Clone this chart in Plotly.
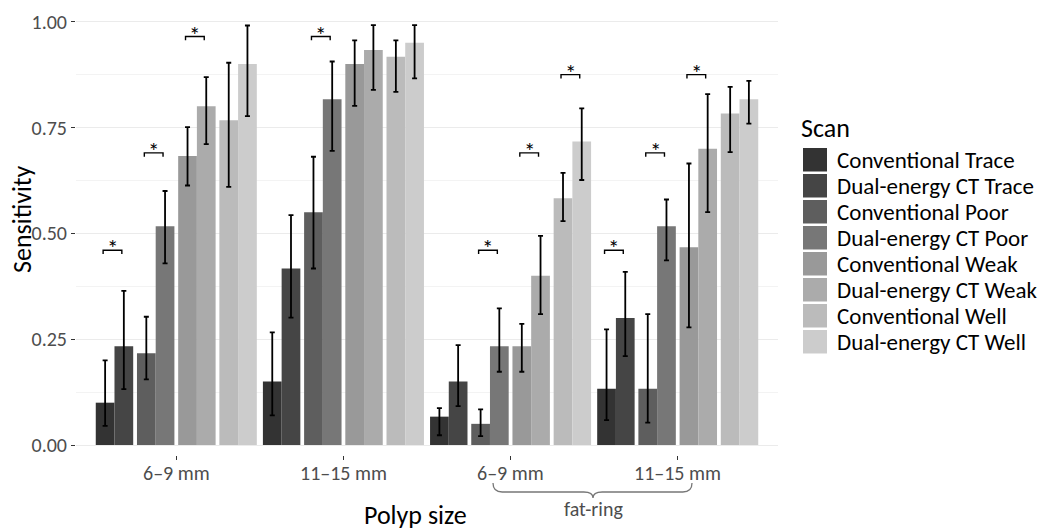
import plotly.graph_objects as go

# ---------------- data ----------------
group_labels = ["6–9 mm", "11–15 mm", "6–9 mm", "11–15 mm"]
group_pos = [1, 2, 3, 4]

series_names = ["Conventional Trace", "Dual-energy CT Trace", "Conventional Poor", "Dual-energy CT Poor",
                "Conventional Weak", "Dual-energy CT Weak", "Conventional Well", "Dual-energy CT Well"]
series_colors = ["#333333", "#454545", "#5e5e5e", "#777777", "#999999", "#ababab", "#bbbbbb", "#cccccc"]

conv_trace = [0.100, 0.150, 0.067, 0.133]
de_trace = [0.233, 0.417, 0.150, 0.300]
conv_poor = [0.217, 0.550, 0.050, 0.133]
de_poor = [0.517, 0.817, 0.233, 0.517]
conv_weak = [0.683, 0.900, 0.233, 0.467]
de_weak = [0.800, 0.933, 0.400, 0.700]
conv_well = [0.767, 0.917, 0.583, 0.783]
de_well = [0.900, 0.950, 0.717, 0.817]

lower_ci = [
    [0.045, 0.070, 0.023, 0.059],
    [0.132, 0.301, 0.092, 0.210],
    [0.155, 0.417, 0.021, 0.053],
    [0.429, 0.695, 0.173, 0.436],
    [0.613, 0.801, 0.173, 0.278],
    [0.711, 0.839, 0.309, 0.550],
    [0.610, 0.834, 0.529, 0.692],
    [0.777, 0.866, 0.626, 0.759],
]
upper_ci = [
    [0.200, 0.266, 0.087, 0.273],
    [0.364, 0.543, 0.236, 0.409],
    [0.303, 0.681, 0.084, 0.309],
    [0.600, 0.906, 0.323, 0.580],
    [0.751, 0.956, 0.286, 0.665],
    [0.869, 0.992, 0.494, 0.829],
    [0.903, 0.956, 0.643, 0.846],
    [0.991, 0.992, 0.795, 0.860],
]

# significance brackets: group index (0-based), first bar of pair, level
sig_group = [0, 0, 0, 1, 2, 2, 2, 3, 3, 3]
sig_bar = [0, 2, 4, 2, 2, 4, 6, 0, 2, 4]
sig_level = [0.46, 0.69, 0.965, 0.965, 0.46, 0.69, 0.875, 0.46, 0.69, 0.875]

y_ticks = [0, 0.25, 0.5, 0.75, 1.0]
y_tick_text = ["0.00", "0.25", "0.50", "0.75", "1.00"]

values = [conv_trace, de_trace, conv_poor, de_poor, conv_weak, de_weak, conv_well, de_well]

# ---------------- layout constants ----------------
W, H = 1038, 530
ML, MR, MT, MB = 76, 260, 2, 75
FONT = "Carlito, Lato, sans-serif"
bar_w = 0.112
pair_step = 0.2465


def px_x(px):
    return (px - ML) / (W - ML - MR)


def px_y(py):
    return (H - MB - py) / (H - MT - MB)


def offset(k):
    pair = k // 2
    within = k % 2
    return (pair - 1.5) * pair_step + (within - 0.5) * bar_w


fig = go.Figure()
for k, name in enumerate(series_names):
    xs = [g + offset(k) for g in group_pos]
    vals = values[k]
    plus = [u - v for u, v in zip(upper_ci[k], vals)]
    minus = [v - l for v, l in zip(vals, lower_ci[k])]
    fig.add_trace(go.Bar(
        x=xs, y=vals, width=bar_w, name=name,
        marker=dict(color=series_colors[k], line=dict(width=0)),
        error_y=dict(type="data", array=plus, arrayminus=minus, visible=True,
                     color="black", thickness=1.8, width=2.5),
        showlegend=False,
    ))

shapes = []
annotations = []

# significance brackets
shift = -0.012
drop = 0.009
for g, b, lev in zip(sig_group, sig_bar, sig_level):
    x1 = group_pos[g] + offset(b) + shift
    x2 = group_pos[g] + offset(b + 1) + shift
    shapes.append(dict(type="path", xref="x", yref="y",
                       path=f"M {x1},{lev - drop} L {x1},{lev} L {x2},{lev} L {x2},{lev - drop}",
                       line=dict(color="black", width=1.4)))
    annotations.append(dict(x=(x1 + x2) / 2, y=lev, xref="x", yref="y", text="*",
                            showarrow=False, yanchor="middle", yshift=2,
                            font=dict(family=FONT, size=23, color="black")))

# x tick labels (placed as text under the ticks)
for gp, lab in zip(group_pos, group_labels):
    annotations.append(dict(x=gp, y=px_y(473), xref="x", yref="paper", text=lab,
                            showarrow=False, xanchor="center", yanchor="middle",
                            font=dict(family=FONT, size=20, color="#4d4d4d")))

# legend (drawn manually)
annotations.append(dict(x=px_x(799), y=px_y(128), xref="paper", yref="paper", text="Scan",
                        showarrow=False, xanchor="left", yanchor="middle",
                        font=dict(family=FONT, size=26, color="black")))
for k, name in enumerate(series_names):
    top = 148 + 26 * k
    shapes.append(dict(type="rect", xref="paper", yref="paper",
                       x0=px_x(803), x1=px_x(827), y0=px_y(top + 23.5), y1=px_y(top),
                       fillcolor=series_colors[k], line=dict(width=0)))
    annotations.append(dict(x=px_x(835), y=px_y(top + 12), xref="paper", yref="paper", text=name,
                            showarrow=False, xanchor="left", yanchor="middle",
                            font=dict(family=FONT, size=23, color="black")))

# axis titles
annotations.append(dict(x=px_x(22), y=px_y(219), xref="paper", yref="paper", text="Sensitivity",
                        textangle=-90, showarrow=False, xanchor="center", yanchor="middle",
                        font=dict(family=FONT, size=26, color="black")))
annotations.append(dict(x=px_x(415), y=px_y(515), xref="paper", yref="paper", text="Polyp size",
                        showarrow=False, xanchor="center", yanchor="middle",
                        font=dict(family=FONT, size=26, color="black")))

# fat-ring brace
def bx(px):
    return 0.4 + (px - ML) / ((W - ML - MR) / 4.2)

bl, bc, br = bx(493), bx(593), bx(692)
d5 = 0.055
y0, y1, y2 = px_y(483), px_y(492), px_y(498)
brace = (f"M {bl},{y0} Q {bl},{y1} {bl + d5},{y1} L {bc - d5},{y1} Q {bc},{y1} {bc},{y2} "
         f"Q {bc},{y1} {bc + d5},{y1} L {br - d5},{y1} Q {br},{y1} {br},{y0}")
shapes.append(dict(type="path", xref="x", yref="paper", path=brace,
                   line=dict(color="#777777", width=1.3)))
annotations.append(dict(x=bc, y=px_y(509), xref="x", yref="paper", text="fat-ring",
                        showarrow=False, xanchor="center", yanchor="middle",
                        font=dict(family=FONT, size=20, color="#4d4d4d")))

fig.update_layout(
    width=W, height=H,
    margin=dict(l=ML, r=MR, t=MT, b=MB, pad=0),
    plot_bgcolor="white", paper_bgcolor="white",
    barmode="overlay",
    shapes=shapes, annotations=annotations,
    font=dict(family=FONT),
    xaxis=dict(range=[0.4, 4.6], tickmode="array", tickvals=group_pos, ticktext=group_labels,
               showticklabels=False,
               showgrid=False, zeroline=False, showline=False,
               ticks="outside", ticklen=4, tickwidth=1, tickcolor="#333333"),
    yaxis=dict(range=[-0.0236, 1.0465], tickmode="array", tickvals=y_ticks, ticktext=y_tick_text,
               showgrid=True, gridcolor="#ebebeb", gridwidth=1.3,
               minor=dict(tickmode="array", tickvals=[0.125, 0.375, 0.625, 0.875],
                          showgrid=True, gridcolor="#f3f3f3", gridwidth=1, ticks=""),
               zeroline=False, showline=False,
               ticks="outside", ticklen=4, tickwidth=1, tickcolor="#333333",
               tickfont=dict(family=FONT, size=20, color="#4d4d4d")),
)

fig.write_html("out.html")
